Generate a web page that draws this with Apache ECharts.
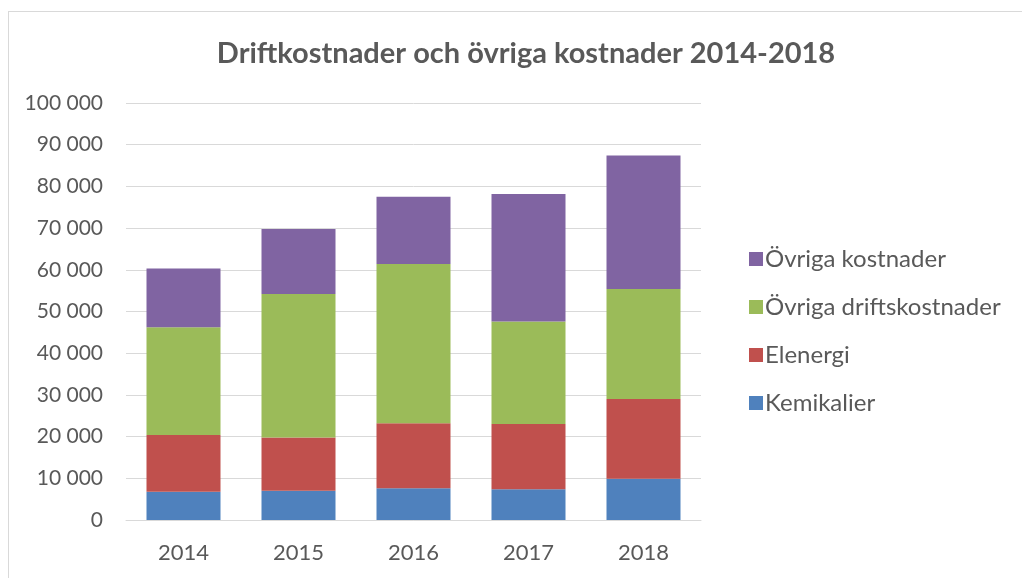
<!DOCTYPE html>
<html>
<head>
<meta charset="utf-8">
<script src="https://cdn.jsdelivr.net/npm/echarts@6/dist/echarts.min.js"></script>
<style>
  html, body { margin: 0; padding: 0; background: #fff; }
  #frame { position: absolute; left: 8px; top: 11px; width: 1100px; height: 700px;
           border-left: 1px solid #D9D9D9; border-top: 1px solid #D9D9D9; }
  #chart { position: absolute; left: 0; top: 0; width: 1022px; height: 578px; }
</style>
</head>
<body>
<div id="frame"></div>
<div id="chart"></div>
<script>
const years = ['2014', '2015', '2016', '2017', '2018'];
const kemikalier = [6800, 7000, 7600, 7400, 9900];
const elenergi = [13600, 12800, 15600, 15600, 19100];
const ovrigaDrift = [25800, 34400, 38200, 24600, 26400];
const ovrigaKostnader = [14100, 15600, 16100, 30600, 32000];
const legendOrder = ['Övriga kostnader', 'Övriga driftskostnader', 'Elenergi', 'Kemikalier'];

const textColor = '#595959';
const font = 'Lato, "Open Sans", sans-serif';

const chart = echarts.init(document.getElementById('chart'));

const mkSeries = (name, data, color) => ({
  name,
  type: 'bar',
  stack: 'total',
  data,
  barWidth: 74,
  itemStyle: { color },
  emphasis: { disabled: true },
});

chart.setOption({
  animation: false,
  textStyle: { fontFamily: font },
  title: {
    text: 'Driftkostnader och övriga kostnader 2014-2018',
    left: 521,
    textAlign: 'center',
    top: 34,
    textStyle: { color: textColor, fontSize: 29, fontWeight: 'bold', fontFamily: font },
  },
  grid: { left: 126, right: 321, top: 103, bottom: 58 },
  legend: {
    orient: 'vertical',
    left: 744,
    top: 242,
    itemWidth: 14,
    itemHeight: 14,
    itemGap: 24,
    icon: 'rect',
    data: legendOrder,
    textStyle: { color: textColor, fontSize: 24, lineHeight: 24, fontFamily: font, padding: [0, 0, 0, -3] },
  },
  xAxis: {
    type: 'category',
    data: years,
    axisLine: { lineStyle: { color: '#D9D9D9', width: 1 } },
    axisTick: { show: false },
    axisLabel: { color: textColor, fontSize: 22, margin: 22 },
  },
  yAxis: {
    type: 'value',
    min: 0,
    max: 100000,
    interval: 10000,
    axisLine: { show: false },
    axisTick: { show: false },
    splitLine: { lineStyle: { color: '#D9D9D9', width: 1 } },
    axisLabel: {
      color: textColor,
      fontSize: 21,
      margin: 23,
      formatter: v => String(v).replace(/\B(?=(\d{3})+(?!\d))/g, ' '),
    },
  },
  series: [
    mkSeries('Kemikalier', kemikalier, '#4F81BD'),
    mkSeries('Elenergi', elenergi, '#C0504D'),
    mkSeries('Övriga driftskostnader', ovrigaDrift, '#9BBB59'),
    mkSeries('Övriga kostnader', ovrigaKostnader, '#8064A2'),
  ],
});
</script>
</body>
</html>
